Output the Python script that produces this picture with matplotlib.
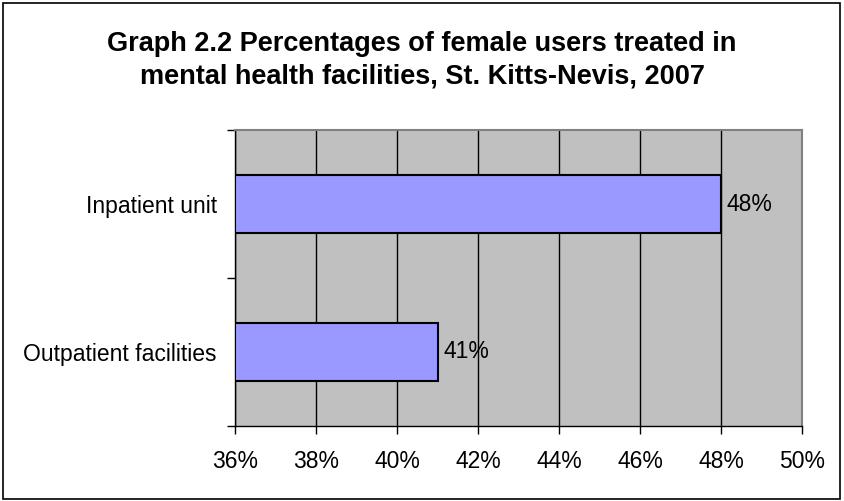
import matplotlib
matplotlib.use("Agg")
import matplotlib.pyplot as plt
from matplotlib.patches import Rectangle
from matplotlib.ticker import FuncFormatter

# data
categories = ["Inpatient unit", "Outpatient facilities"]
values = [48, 41]
x_ticks = [36, 38, 40, 42, 44, 46, 48, 50]
title = "Graph 2.2 Percentages of female users treated in\nmental health facilities, St. Kitts-Nevis, 2007"

plt.rcParams["font.family"] = ["Liberation Sans", "DejaVu Sans"]

fig = plt.figure(figsize=(8.44, 5.01), dpi=100)
ax = fig.add_axes([235 / 844, 1 - 426 / 501, 567 / 844, 296 / 501])

# plot area
ax.set_facecolor("#C0C0C0")
ax.set_axisbelow(True)
ax.grid(axis="x", color="black", linewidth=1)

ypos = list(range(len(categories)))
ax.barh(ypos, [v - x_ticks[0] for v in values], left=x_ticks[0], height=0.39,
        color="#9999FF", edgecolor="black", linewidth=1.5, zorder=3)

for y, v in zip(ypos, values):
    ax.annotate(f"{v}%", xy=(v, y), xytext=(4, 0), textcoords="offset points",
                va="center", ha="left", fontsize=16.5, zorder=4)

ax.set_xlim(x_ticks[0], x_ticks[-1])
ax.set_xticks(x_ticks)
ax.xaxis.set_major_formatter(FuncFormatter(lambda v, p: f"{v:.0f}%"))
ax.tick_params(axis="x", labelsize=16.5, length=6, width=1, pad=11, direction="out")

ax.set_ylim(len(categories) - 0.5, -0.5)
ax.set_yticks([i - 0.5 for i in range(len(categories) + 1)])
ax.set_yticklabels([])
ax.set_yticks(ypos, minor=True)
ax.set_yticklabels(categories, minor=True)
ax.tick_params(axis="y", which="major", length=6, width=1, direction="out")
ax.tick_params(axis="y", which="minor", length=0, labelsize=16.5, pad=13)

for s in ["left", "bottom"]:
    ax.spines[s].set_color("black")
    ax.spines[s].set_linewidth(1)
for s in ["top", "right"]:
    ax.spines[s].set_color("#808080")
    ax.spines[s].set_linewidth(1.5)

fig.text(0.5, 1 - 60 / 501, title, ha="center", va="center",
         fontsize=19.5, fontweight="bold", linespacing=1.3)

# outer border
fig.patches.append(Rectangle((3 / 844, 2 / 501), 837 / 844, 496 / 501,
                             transform=fig.transFigure, fill=False,
                             edgecolor="black", linewidth=1.2))

fig.savefig("out.png", dpi=100)
